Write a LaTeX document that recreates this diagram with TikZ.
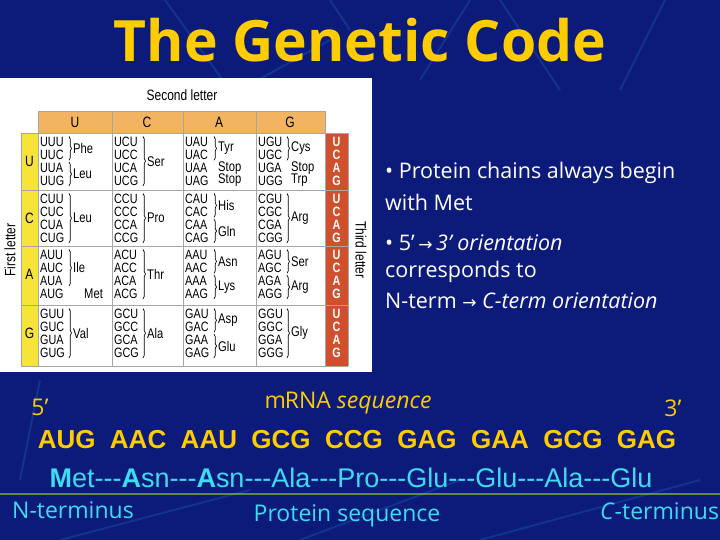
\documentclass[tikz,border=0pt]{standalone}
\usepackage{fontspec}
\setmainfont{Liberation Sans}
\newfontfamily\cond[FakeStretch=0.8]{Liberation Sans}
\newfontfamily\comic{Open Sans}
\usetikzlibrary{decorations.pathreplacing}
\definecolor{bg}{HTML}{0C1A7A}
\definecolor{ttl}{HTML}{FFCC00}
\definecolor{cy}{HTML}{3EDCF0}
\definecolor{hdr}{HTML}{F2B461}
\definecolor{yel}{HTML}{F6E43A}
\definecolor{red3}{HTML}{D0502E}
\tikzset{cod/.style={anchor=west,inner sep=0pt,font=\cond\fontsize{13.5}{12}\selectfont},
 brc/.style={decorate,decoration={brace,amplitude=2.5pt},line width=0.7pt},
 aa/.style={anchor=west,inner sep=0pt,font=\cond\fontsize{14}{12}\selectfont},
 grid/.style={draw=gray!70,line width=0.6pt},
 lbl/.style={font=\cond\fontsize{15}{15}\selectfont},
 side/.style={font=\comic\fontsize{21.5}{22}\selectfont,text=white,anchor=west,inner sep=0pt},
 bot/.style={font=\comic\fontsize{23}{24}\selectfont}}
\newcommand\ly[2]{#1+9+12.8*(#2-1)}
\newcommand\cellcod[3]{%
 \node[cod] (c#3U) at (#1+2,{\ly{#2}{1}}) {#3U};
 \node[cod] (c#3C) at (#1+2,{\ly{#2}{2}}) {#3C};
 \node[cod] (c#3A) at (#1+2,{\ly{#2}{3}}) {#3A};
 \node[cod] (c#3G) at (#1+2,{\ly{#2}{4}}) {#3G};}
\newcommand\grp[6]{% x y from to label name
 \coordinate (t#6) at (#1+31,{\ly{#2}{#3}-5.5});
 \coordinate (b#6) at (#1+31,{\ly{#2}{#4}+5.5});
 \draw[brc] (t#6) -- (b#6);
 \node[aa] (a#6) at (#1+35,{(\ly{#2}{#3}+\ly{#2}{#4})/2}) {#5};}
\begin{document}
\begin{tikzpicture}[x=1pt,y=-1pt]
\fill[bg] (0,0) rectangle (720,540);
\useasboundingbox (0,0) rectangle (720,540);
% decorative streaks
\begin{scope}[draw=cyan!40!blue,line width=2pt,opacity=0.35]
\draw (165,0) -- (230,90); \draw (330,40) -- (150,140);
\draw (470,0) -- (420,80); \draw (500,0) -- (560,90);
\draw (665,0) -- (620,90); \draw (330,0) -- (350,30);
\draw (60,540) -- (250,490); \draw (300,540) -- (460,480);
\draw (480,540) -- (700,480); \draw (40,380) -- (20,480);
\end{scope}
\fill[yellow!60!green,opacity=0.6] (0,493) rectangle (720,495);
\node[text=ttl,font=\comic\bfseries\fontsize{57}{60}\selectfont] (title) at (360,40) {The Genetic Code};
% table
\fill[white] (0,78) rectangle (372,372);
\node[lbl] (sl) at (182,95) {Second letter};
\node[lbl,rotate=90] (fl) at (10,250) {First letter};
\node[lbl,rotate=-90] (tl) at (361,250) {Third letter};
\fill[hdr] (38,111) rectangle (325,133);
\fill[yel] (21,133) rectangle (38,366);
\fill[red3] (325,133) rectangle (348,366);
\foreach \x in {38,112,183,256,325} \draw[grid] (\x,111) -- (\x,366);
\draw[grid] (21,133) -- (21,366); \draw[grid] (348,133) -- (348,366);
\draw[grid] (38,111) -- (325,111);
\foreach \y in {133,190,246,305,366} \draw[grid] (21,\y) -- (348,\y);
\foreach \l/\x in {U/75,C/147,A/219,G/290} \node[lbl] (h\l) at (\x,122) {\l};
\foreach \l/\y in {U/133,C/190,A/246,G/305}{
 \node[lbl] (f\l) at (29.5,\y+28) {\l};
 \foreach \t [count=\i] in {U,C,A,G} \node[text=white,font=\cond\bfseries\fontsize{13.5}{12}\selectfont,inner sep=0pt] (r\l\t) at (336.5,{\ly{\y}{\i}}) {\t};
 \foreach \c/\x in {U/38,C/112,A/183,G/256} {\cellcod{\x}{\y}{\l\c}}
}
% row U
\grp{38}{133}{1}{2}{Phe}{UU1}\grp{38}{133}{3}{4}{Leu}{UU2}
\grp{112}{133}{1}{4}{Ser}{UC}
\grp{183}{133}{1}{2}{Tyr}{UA}
\node[aa] (s1) at (218,{\ly{133}{3}}) {Stop};\node[aa] (s2) at (218,{\ly{133}{4}}) {Stop};
\grp{256}{133}{1}{2}{Cys}{UG}
\node[aa] (s3) at (291,{\ly{133}{3}}) {Stop};\node[aa] (trp) at (291,{\ly{133}{4}}) {Trp};
% row C
\grp{38}{190}{1}{4}{Leu}{CU}\grp{112}{190}{1}{4}{Pro}{CC}
\grp{183}{190}{1}{2}{His}{CA1}\grp{183}{190}{3}{4}{Gln}{CA2}
\grp{256}{190}{1}{4}{Arg}{CG}
% row A
\grp{38}{246}{1}{3}{Ile}{AU}\node[aa] (met) at (84,{\ly{246}{4}}) {Met};
\grp{112}{246}{1}{4}{Thr}{AC}
\grp{183}{246}{1}{2}{Asn}{AA1}\grp{183}{246}{3}{4}{Lys}{AA2}
\grp{256}{246}{1}{2}{Ser}{AG1}\grp{256}{246}{3}{4}{Arg}{AG2}
% row G
\grp{38}{305}{1}{4}{Val}{GU}\grp{112}{305}{1}{4}{Ala}{GC}
\grp{183}{305}{1}{2}{Asp}{GA1}\grp{183}{305}{3}{4}{Glu}{GA2}
\grp{256}{305}{1}{4}{Gly}{GG}
% side text
\node[side] (p1) at (385,173) {\textbullet\ Protein chains always begin};
\node[side] (p2) at (385,202) {with Met};
\node[side] (p3) at (385,243) {\textbullet\ 5\textquoteright\,{\fontspec{DejaVu Sans}\fontsize{17}{17}\selectfont →}\,\textit{3\textquoteright\ orientation}};
\node[side] (p4) at (385,272) {corresponds to};
\node[side] (p5) at (385,301) {N-term {\fontspec{DejaVu Sans}\fontsize{17}{17}\selectfont →} \textit{C-term orientation}};
% bottom
\node[text=ttl,bot] (f5) at (40,407) {5\textquoteright};
\node[text=ttl,bot] (mr) at (348,403) {m\kern-1ptRNA \textit{sequence}};
\node[text=ttl,bot] (f3) at (673,408) {3\textquoteright};
\node[text=ttl,font=\bfseries\fontsize{26}{26}\selectfont] (mrna) at (357,440) {AUG\ \ AAC\ \ AAU\ \ GCG\ \ CCG\ \ GAG\ \ GAA\ \ GCG\ \ GAG};
\node[text=cy,font=\fontsize{27}{27}\selectfont] (prot) at (351,478) {\textbf{M}et-{}-{}-\textbf{A}sn-{}-{}-\textbf{A}sn-{}-{}-Ala-{}-{}-Pro-{}-{}-Glu-{}-{}-Glu-{}-{}-Ala-{}-{}-Glu};
\node[text=cy,bot,anchor=west,inner sep=0pt] (nt) at (12,510) {N-terminus};
\node[text=cy,bot] (ps) at (347,516) {Protein sequence};
\node[text=cy,bot,anchor=west,inner sep=0pt] (ct) at (600,511) {\textit{C}-terminus};
\end{tikzpicture}
\end{document}
